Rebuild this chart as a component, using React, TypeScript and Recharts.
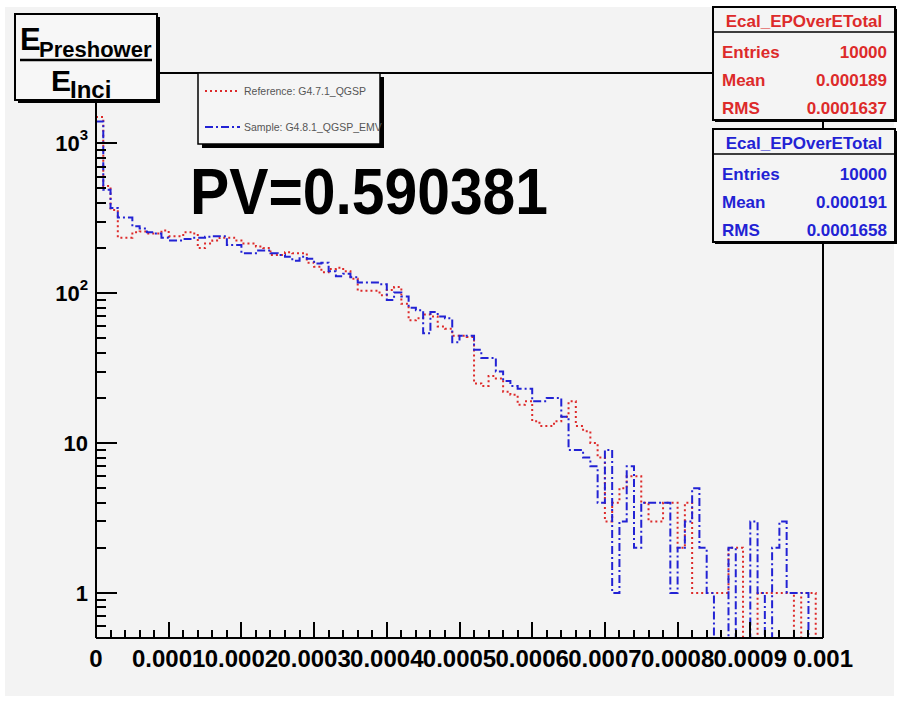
import React from "react";
import { LineChart, Line, XAxis, YAxis } from "recharts";

// 100 bins from 0 to 0.001, counts (0 = empty bin)
const refCounts = [
  1500, 520, 360, 235, 235, 255, 258, 250, 250, 262,
  240, 240, 255, 250, 200, 215, 225, 235, 235, 225,
  215, 215, 205, 200, 180, 180, 188, 185, 185, 160,
  150, 138, 145, 148, 140, 125, 104, 104, 104, 97,
  105, 110, 85, 66, 68, 72, 70, 60, 58, 52,
  52, 51, 25, 24, 28, 27, 22, 21, 18, 19,
  14, 13, 13, 14, 15, 19, 13, 12, 10, 8,
  3, 4, 5, 6, 6, 4, 3, 3, 4, 4,
  2, 4, 1, 1, 1, 1, 1, 2, 2, 0,
  0, 1, 1, 1, 1, 1, 0, 1, 1, 0,
];

const sampleCounts = [
  1400, 490, 370, 320, 320, 280, 270, 255, 250, 235,
  225, 225, 230, 235, 235, 238, 240, 240, 210, 210,
  185, 185, 193, 193, 185, 180, 175, 165, 175, 170,
  158, 160, 140, 130, 135, 128, 118, 118, 118, 115,
  90, 101, 95, 80, 77, 54, 75, 70, 68, 47,
  52, 52, 42, 37, 37, 30, 26, 24, 23, 23,
  19, 19, 20, 20, 15, 9, 9, 8, 7, 4,
  9, 1, 3, 7, 2, 4, 4, 4, 4, 1,
  2, 3, 5, 2, 1, 0, 0, 2, 0, 0,
  3, 1, 0, 2, 3, 1, 1, 1, 0, 0,
];

const binWidth = 0.00001;
const xMax = 0.001;

const xMajorTicks = [0, 0.0001, 0.0002, 0.0003, 0.0004, 0.0005, 0.0006, 0.0007, 0.0008, 0.0009, 0.001];
const xTickLabels = ["0", "0.0001", "0.0002", "0.0003", "0.0004", "0.0005", "0.0006", "0.0007", "0.0008", "0.0009", "0.001"];

const yMajorTicks = [1, 10, 100, 1000];
const yMinorTicks = [0.6, 0.7, 0.8, 0.9, 2, 3, 4, 5, 6, 7, 8, 9, 20, 30, 40, 50, 60, 70, 80, 90, 200, 300, 400, 500, 600, 700, 800, 900, 2000];
const yTickLabels: Record<number, [string, string]> = {
  1: ["1", ""],
  10: ["10", ""],
  100: ["10", "2"],
  1000: ["10", "3"],
};

const legendNames = ["Reference: G4.7.1_QGSP", "Sample: G4.8.1_QGSP_EMV"];
const statsTitle = "Ecal_EPOverETotal";
const refStats = [["Entries", "10000"], ["Mean", "0.000189"], ["RMS", "0.0001637"]];
const sampleStats = [["Entries", "10000"], ["Mean", "0.000191"], ["RMS", "0.0001658"]];
const pValue = "PV=0.590381";

const Y_MIN = 0.5;
const Y_MAX = 2950;
const LEFT = 96;
const RIGHT = 823;
const TOP = 73;
const BOTTOM = 638;
const RED = "#dd2a2a";
const BLUE = "#2222d4";
const FONT = "'Liberation Sans', Arial, Helvetica, sans-serif";

// zero bins sit on the bottom of the frame like ROOT does
const rows = refCounts.map((r, i) => ({
  x: i * binWidth,
  ref: r > 0 ? r : Y_MIN,
  sample: sampleCounts[i] > 0 ? sampleCounts[i] : Y_MIN,
}));
rows.push({ x: xMax, ref: rows[rows.length - 1].ref, sample: rows[rows.length - 1].sample });

const xMinorTicks: number[] = [];
xMajorTicks.slice(0, -1).forEach((m) => {
  for (let k = 1; k < 5; k++) xMinorTicks.push(m + k * 0.00002);
});

// tick marks only, same mapping as the chart axes
const tickX = (v: number) => Math.round(LEFT + (v / xMax) * (RIGHT - LEFT));
const tickY = (v: number) => Math.round(BOTTOM - (Math.log(v / Y_MIN) / Math.log(Y_MAX / Y_MIN)) * (BOTTOM - TOP));

const XTick = (props: any) => {
  const { x, payload } = props;
  const idx = xMajorTicks.findIndex((m) => Math.abs(m - payload.value) < 1e-9);
  if (idx < 0) return <g />;
  return (
    <text x={x} y={667} textAnchor="middle" fontSize={24} fontWeight="bold" fontFamily={FONT} fill="#000">
      {xTickLabels[idx]}
    </text>
  );
};

const YTick = (props: any) => {
  const { y, payload } = props;
  const lab = yTickLabels[payload.value];
  if (!lab) return <g />;
  return (
    <text x={88} y={y + 8} textAnchor="end" fontSize={22} fontWeight="bold" fontFamily={FONT} fill="#000">
      <tspan>{lab[0]}</tspan>
      {lab[1] && (
        <tspan dy={-11} fontSize={15}>
          {lab[1]}
        </tspan>
      )}
    </text>
  );
};

const StatsBox = ({ top, color, stats }: { top: number; color: string; stats: string[][] }) => (
  <g>
    <rect x={715} y={top + 2} width={182} height={113} fill="#000" />
    <rect x={713} y={top} width={182} height={113} fill="#f4f4f4" stroke="#000" strokeWidth={2} />
    <line x1={713} x2={895} y1={top + 25} y2={top + 25} stroke="#000" strokeWidth={1.5} />
    <text x={804} y={top + 20} textAnchor="middle" fontSize={17} fontWeight="bold" fontFamily={FONT} fill={color}>
      {statsTitle}
    </text>
    {stats.map(([k, v], i) => (
      <g key={k}>
        <text x={722} y={top + 51 + i * 28} fontSize={17} fontWeight="bold" fontFamily={FONT} fill={color}>
          {k}
        </text>
        <text x={887} y={top + 51 + i * 28} textAnchor="end" fontSize={17} fontWeight="bold" fontFamily={FONT} fill={color}>
          {v}
        </text>
      </g>
    ))}
  </g>
);

export default function App() {
  return (
    <div style={{ position: "absolute", left: 0, top: 0, width: 899, height: 704, background: "#fff" }}>
      <div style={{ position: "absolute", left: 5, top: 7, width: 889, height: 689, background: "#f3f3f3" }} />
      <div style={{ position: "absolute", left: 0, top: 0 }}>
        <LineChart width={899} height={704} data={rows} margin={{ top: TOP, right: 899 - RIGHT, bottom: 16, left: 10 }}>
          <XAxis
            dataKey="x"
            type="number"
            domain={[0, xMax]}
            allowDataOverflow
            ticks={xMajorTicks}
            interval={0}
            tick={XTick}
            tickLine={false}
            axisLine={{ stroke: "#000", strokeWidth: 2 }}
            height={50}
          />
          <YAxis
            type="number"
            scale="log"
            domain={[Y_MIN, Y_MAX]}
            allowDataOverflow
            ticks={yMajorTicks}
            interval={0}
            tick={YTick}
            tickLine={false}
            axisLine={{ stroke: "#000", strokeWidth: 2 }}
            width={86}
          />
          <Line
            dataKey="ref"
            type="stepAfter"
            stroke={RED}
            strokeWidth={2}
            strokeDasharray="2 3"
            dot={false}
            isAnimationActive={false}
          />
          <Line
            dataKey="sample"
            type="stepAfter"
            stroke={BLUE}
            strokeWidth={2}
            strokeDasharray="8 3 2 3"
            dot={false}
            isAnimationActive={false}
          />
        </LineChart>
      </div>
      <svg width={899} height={704} style={{ position: "absolute", left: 0, top: 0 }}>
        {/* frame top and right */}
        <line x1={LEFT} x2={RIGHT} y1={TOP} y2={TOP} stroke="#000" strokeWidth={2} />
        <line x1={RIGHT} x2={RIGHT} y1={TOP} y2={BOTTOM} stroke="#000" strokeWidth={2} />

        {/* axis tick marks */}
        {yMajorTicks.map((v) => (
          <line key={`ym${v}`} x1={LEFT} x2={LEFT + 21} y1={tickY(v)} y2={tickY(v)} stroke="#000" strokeWidth={2} />
        ))}
        {yMinorTicks.map((v) => (
          <line key={`yn${v}`} x1={LEFT} x2={LEFT + 10} y1={tickY(v)} y2={tickY(v)} stroke="#000" strokeWidth={2} />
        ))}
        {xMajorTicks.map((v) => (
          <line key={`xm${v}`} x1={tickX(v)} x2={tickX(v)} y1={BOTTOM} y2={BOTTOM - 16} stroke="#000" strokeWidth={2} />
        ))}
        {xMinorTicks.map((v) => (
          <line key={`xn${v}`} x1={tickX(v)} x2={tickX(v)} y1={BOTTOM} y2={BOTTOM - 8} stroke="#000" strokeWidth={2} />
        ))}

        {/* y title box */}
        <rect x={18} y={17} width={142} height={86} fill="#000" />
        <rect x={15} y={14} width={142} height={86} fill="#f7f7f7" stroke="#000" strokeWidth={2} />
        <text x={20} y={50} fontSize={31} fontWeight="bold" fontFamily={FONT} fill="#000">
          E
        </text>
        <text x={39} y={57} fontSize={22} fontWeight="bold" fontFamily={FONT} fill="#000">
          Preshower
        </text>
        <line x1={20} x2={152} y1={60} y2={60} stroke="#000" strokeWidth={2.5} />
        <text x={51} y={91} fontSize={30} fontWeight="bold" fontFamily={FONT} fill="#000">
          E
        </text>
        <text x={70} y={98} fontSize={24} fontWeight="bold" fontFamily={FONT} fill="#000">
          Inci
        </text>

        {/* legend */}
        <rect x={202} y={77} width={182} height={71} fill="#000" />
        <rect x={198} y={73} width={182} height={71} fill="#f5f5f5" stroke="#000" strokeWidth={1.5} />
        <line x1={205} x2={240} y1={91} y2={91} stroke={RED} strokeWidth={2} strokeDasharray="2 3" />
        <text x={244} y={95} fontSize={10.5} fontFamily={FONT} fill="#555">
          {legendNames[0]}
        </text>
        <line x1={205} x2={240} y1={127} y2={127} stroke={BLUE} strokeWidth={2} strokeDasharray="8 3 2 3" />
        <text x={244} y={131} fontSize={10.5} fontFamily={FONT} fill="#555">
          {legendNames[1]}
        </text>

        <text x={190} y={214} fontSize={64} fontWeight="bold" fontFamily={FONT} fill="#000" textLength={358} lengthAdjust="spacingAndGlyphs">
          {pValue}
        </text>

        <StatsBox top={7} color={RED} stats={refStats} />
        <StatsBox top={129} color={BLUE} stats={sampleStats} />
      </svg>
    </div>
  );
}
